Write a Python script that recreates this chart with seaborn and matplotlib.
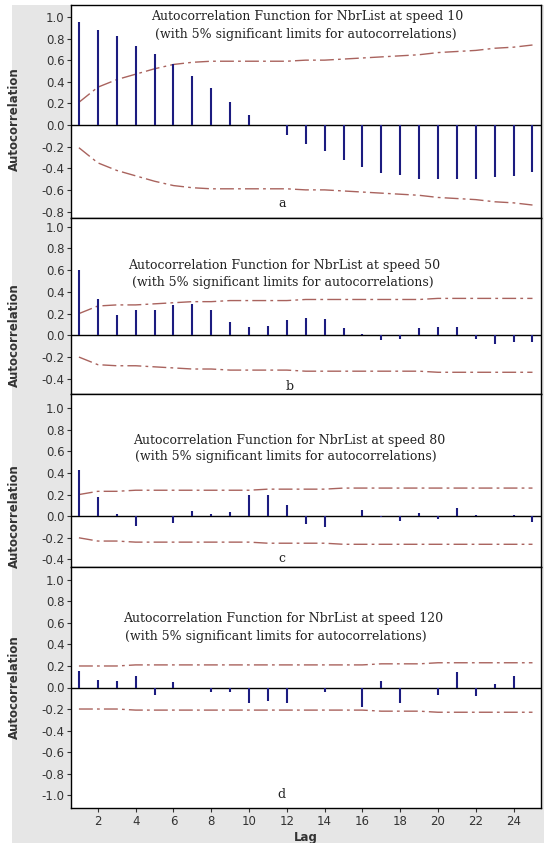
import matplotlib
matplotlib.use("Agg")
import pandas as pd
import matplotlib.pyplot as plt
import matplotlib.transforms as mtransforms
from matplotlib.patches import Rectangle
import seaborn as sns

# lags shown on the x axis
lags = [1, 2, 3, 4, 5, 6, 7, 8, 9, 10, 11, 12, 13,
        14, 15, 16, 17, 18, 19, 20, 21, 22, 23, 24, 25]
speeds = ["10", "50", "80", "120"]
letters = ["a", "b", "c", "d"]

# autocorrelations
acf_10 = [0.95, 0.88, 0.82, 0.73, 0.66, 0.56, 0.455, 0.34, 0.21, 0.09, 0.0, -0.09, -0.18,
          -0.24, -0.32, -0.39, -0.44, -0.46, -0.50, -0.50, -0.50, -0.50, -0.48, -0.47, -0.43]
acf_50 = [0.60, 0.33, 0.19, 0.23, 0.23, 0.28, 0.29, 0.23, 0.12, 0.08, 0.09, 0.14, 0.16,
          0.15, 0.07, 0.015, -0.04, -0.03, 0.065, 0.08, 0.08, -0.03, -0.08, -0.06, -0.06]
acf_80 = [0.43, 0.18, 0.02, -0.09, 0.0, -0.06, 0.045, 0.02, 0.035, 0.20, 0.20, 0.105, -0.07,
          -0.10, 0.0, 0.06, -0.01, -0.045, 0.03, -0.03, 0.075, 0.01, 0.0, 0.01, -0.055]
acf_120 = [0.15, 0.07, 0.06, 0.105, -0.07, 0.05, 0.0, -0.04, -0.04, -0.14, -0.125, -0.14, 0.0,
           -0.04, 0.0, -0.18, 0.06, -0.14, 0.0, -0.07, 0.145, -0.08, 0.035, 0.105, 0.0]

# 5% significance limits (upper; the lower one is the mirror image)
lim_10 = [0.21, 0.35, 0.42, 0.47, 0.52, 0.56, 0.58, 0.59, 0.59, 0.59, 0.59, 0.59, 0.60,
          0.60, 0.61, 0.62, 0.63, 0.64, 0.65, 0.67, 0.68, 0.69, 0.71, 0.72, 0.74]
lim_50 = [0.20, 0.27, 0.28, 0.28, 0.29, 0.30, 0.31, 0.31, 0.32, 0.32, 0.32, 0.32, 0.33,
          0.33, 0.33, 0.33, 0.33, 0.33, 0.33, 0.34, 0.34, 0.34, 0.34, 0.34, 0.34]
lim_80 = [0.20, 0.23, 0.23, 0.24, 0.24, 0.24, 0.24, 0.24, 0.24, 0.24, 0.25, 0.25, 0.25,
          0.25, 0.26, 0.26, 0.26, 0.26, 0.26, 0.26, 0.26, 0.26, 0.26, 0.26, 0.26]
lim_120 = [0.20, 0.20, 0.20, 0.21, 0.21, 0.21, 0.21, 0.21, 0.21, 0.21, 0.21, 0.21, 0.21,
           0.21, 0.21, 0.21, 0.22, 0.22, 0.22, 0.23, 0.23, 0.23, 0.23, 0.23, 0.23]

acfs = [acf_10, acf_50, acf_80, acf_120]
limits = [lim_10, lim_50, lim_80, lim_120]

ylims = [(-0.86, 1.11), (-0.54, 1.08), (-0.47, 1.13), (-1.12, 1.12)]
yticks = [[1.0, 0.8, 0.6, 0.4, 0.2, 0.0, -0.2, -0.4, -0.6, -0.8],
          [1.0, 0.8, 0.6, 0.4, 0.2, 0.0, -0.2, -0.4],
          [1.0, 0.8, 0.6, 0.4, 0.2, 0.0, -0.2, -0.4],
          [1.0, 0.8, 0.6, 0.4, 0.2, 0.0, -0.2, -0.4, -0.6, -0.8, -1.0]]

# panel boxes in pixels (top, bottom)
W, H = 544, 843
boxes = [(5, 218), (218, 394), (394, 567), (567, 808)]
title_pos = [((4.8, 1.0), (5.0, 0.84)),
             ((3.6, 0.64), (3.8, 0.49)),
             ((3.86, 0.70), (3.98, 0.55)),
             ((3.33, 0.64), (3.43, 0.47))]
letter_pos = [(11.74, -0.73), (12.16, -0.47), (11.74, -0.39), (11.74, -0.99)]
label_y = [0.05, 0.0, 0.0, 0.0]

sns.set_theme(style="ticks")
plt.rcParams["font.family"] = ["DejaVu Sans"]

fig = plt.figure(figsize=(W / 100, H / 100), dpi=100, facecolor="white")
fig.patches.append(Rectangle((12 / W, 0), 1, 1 - 5 / H, transform=fig.transFigure,
                             facecolor="#e6e6e6", edgecolor="none", zorder=-5))

bar_color = "#1c1c80"
lim_color = "#a0524c"

for i in range(4):
    top, bottom = boxes[i]
    ax = fig.add_axes([71 / W, 1 - bottom / H, 470 / W, (bottom - top) / H])
    ax.set_facecolor("white")

    df = pd.DataFrame({"lag": lags, "acf": acfs[i], "upper": limits[i]})
    df["lower"] = -df["upper"]

    ax.axhline(0, color="black", lw=1.0, zorder=2)
    ax.vlines(df["lag"], 0, df["acf"], color=bar_color, lw=1.5, zorder=3)
    for col in ["upper", "lower"]:
        sns.lineplot(data=df, x="lag", y=col, ax=ax, color=lim_color, lw=1.0,
                     linestyle=(0, (10, 3, 2, 3)), alpha=0.9, zorder=2)

    ax.set_xlim(0.58, 25.45)
    ax.set_ylim(*ylims[i])
    ax.set_yticks(yticks[i])
    ax.set_yticklabels([f"{t:.1f}" for t in yticks[i]])
    ax.tick_params(axis="y", direction="out", length=3, width=0.8, labelsize=8.5,
                   labelcolor="#333333", pad=1.5, color="#333333")
    if i < 3:
        ax.tick_params(axis="x", bottom=False, labelbottom=False)
        ax.set_xlabel("")
    else:
        ax.set_xticks([2, 4, 6, 8, 10, 12, 14, 16, 18, 20, 22, 24])
        ax.tick_params(axis="x", direction="out", length=3, width=0.8, labelsize=8.5,
                       labelcolor="#333333", pad=2, color="#333333")
        ax.set_xlabel("Lag", fontsize=8.5, fontweight="bold", color="#333333", labelpad=2)
    for sp in ax.spines.values():
        sp.set_color("black")
        sp.set_linewidth(1.0)

    ax.set_ylabel("Autocorrelation", fontsize=8.5, fontweight="bold", color="#333333")
    tr = mtransforms.blended_transform_factory(fig.transFigure, ax.transData)
    ax.yaxis.set_label_coords(21 / W, label_y[i], transform=tr)

    (x1, y1), (x2, y2) = title_pos[i]
    ax.text(x1, y1, f"Autocorrelation Function for NbrList at speed {speeds[i]}",
            family="DejaVu Serif", fontsize=9, color="#222222", ha="left", va="center")
    ax.text(x2, y2, "(with 5% significant limits for autocorrelations)",
            family="DejaVu Serif", fontsize=9, color="#222222", ha="left", va="center")
    lx, ly = letter_pos[i]
    ax.text(lx, ly, letters[i], family="DejaVu Serif", fontsize=9, color="#222222",
            ha="center", va="center")

fig.savefig("out.png", dpi=100)
